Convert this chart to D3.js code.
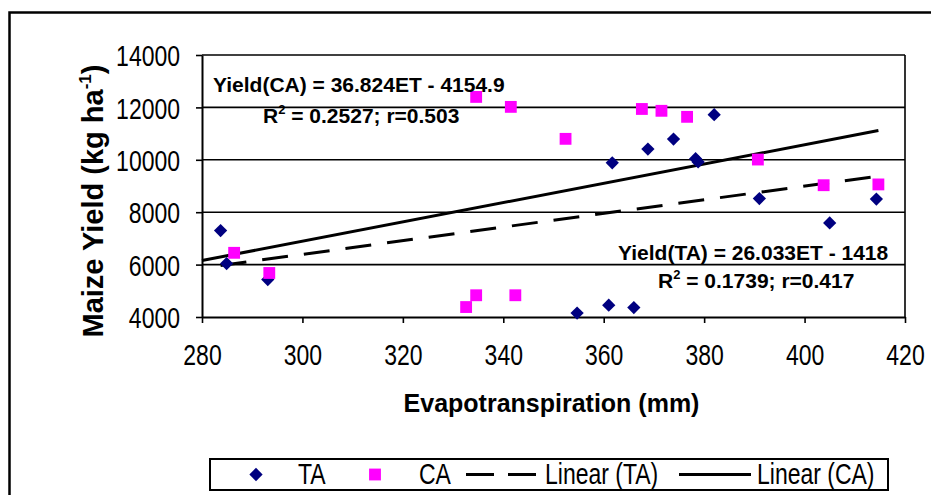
<!DOCTYPE html>
<html>
<head>
<meta charset="utf-8">
<script src="https://cdn.jsdelivr.net/npm/d3@7/dist/d3.min.js"></script>
<style>
  body { margin: 0; background: #fff; }
  text { font-family: "Liberation Sans", Arial, sans-serif; }
</style>
</head>
<body>
<div id="chart"></div>
<script>
// evapotranspiration (mm) and maize yield (kg/ha)
const taET    = [283.7, 284.9, 293.1, 354.7, 361.0, 366.0, 361.7, 368.8, 373.9, 378.3, 378.8, 382.0, 391.0, 405.0, 414.3];
const taYield = [7300, 6040, 5430, 4150, 4450, 4360, 9885, 10410, 10790, 10040, 9920, 11720, 8520, 7590, 8500];
const caET    = [286.4, 293.4, 332.6, 334.6, 342.4, 334.6, 341.5, 352.4, 367.6, 371.5, 376.6, 390.7, 403.8, 414.7];
const caYield = [6450, 5680, 4380, 4830, 4830, 12400, 12020, 10800, 11940, 11870, 11640, 10010, 9030, 9060];

// fitted lines given on the chart
const taFit = [26.033, -1418];
const caFit = [36.824, -4154.9];

const xTicks = [280, 300, 320, 340, 360, 380, 400, 420];
const yTicks = [4000, 6000, 8000, 10000, 12000, 14000];

const width = 931, height = 495;
const plotL = 202, plotR = 905, plotT = 55, plotB = 317;
const stretch = 1.3; // the original figure's plain text is drawn tall and narrow

const svg = d3.select('#chart').append('svg')
  .attr('width', width)
  .attr('height', height);

svg.append('rect')
  .attr('width', width).attr('height', height)
  .attr('fill', '#fff');

// outer chart frame
svg.append('rect')
  .attr('x', 9.5).attr('y', 12.5)
  .attr('width', 940).attr('height', 500)
  .attr('fill', 'none')
  .attr('stroke', '#000')
  .attr('stroke-width', 2.5);

const x = d3.scaleLinear().domain([280, 420]).range([plotL, plotR]);
const y = d3.scaleLinear().domain([4000, 14000]).range([plotB, plotT]);

// gridlines + top frame
svg.append('g')
  .selectAll('line')
  .data(yTicks.slice(1))
  .enter()
  .append('line')
  .attr('x1', plotL).attr('x2', plotR)
  .attr('y1', d => y(d)).attr('y2', d => y(d))
  .attr('stroke', '#000')
  .attr('stroke-width', 1.6);

svg.append('line')
  .attr('x1', plotR).attr('x2', plotR)
  .attr('y1', plotT).attr('y2', plotB)
  .attr('stroke', '#000')
  .attr('stroke-width', 1.6);

const yAxis = svg.append('g')
  .attr('transform', `translate(${plotL},0)`)
  .call(d3.axisLeft(y).tickValues(yTicks).tickSize(6).tickSizeOuter(0).tickPadding(16).tickFormat(d3.format('d')));

const xAxis = svg.append('g')
  .attr('transform', `translate(0,${plotB})`)
  .call(d3.axisBottom(x).tickValues(xTicks).tickSize(6).tickSizeOuter(0).tickPadding(21).tickFormat(d3.format('d')));

[yAxis, xAxis].forEach(g => {
  g.attr('font-family', null).attr('font-size', null);
  g.select('.domain').attr('stroke-width', 2);
  g.selectAll('.tick line').attr('stroke-width', 1.6);
  g.selectAll('.tick text')
    .attr('font-size', 23)
    .attr('fill', '#000')
    .attr('transform', `scale(1,${stretch})`);
});
yAxis.selectAll('.tick text').attr('dy', '0.36em');
xAxis.selectAll('.tick text').attr('y', 27 / stretch);

// trend lines
const line = d3.line().x(d => x(d[0])).y(d => y(d[1]));
const taRange = d3.extent(taET);
const caRange = [280, d3.max(caET)];

svg.append('path')
  .attr('d', line(taRange.map(e => [e, taFit[0] * e + taFit[1]])))
  .attr('fill', 'none')
  .attr('stroke', '#000')
  .attr('stroke-width', 3)
  .attr('stroke-dasharray', '26,16');

svg.append('path')
  .attr('d', line(caRange.map(e => [e, caFit[0] * e + caFit[1]])))
  .attr('fill', 'none')
  .attr('stroke', '#000')
  .attr('stroke-width', 3);

// points
const diamond = d3.symbol().type(d3.symbolSquare).size(88);
const square = d3.symbol().type(d3.symbolSquare).size(140);

svg.append('g')
  .selectAll('path')
  .data(taET.map((e, i) => [e, taYield[i]]))
  .enter()
  .append('path')
  .attr('d', diamond)
  .attr('transform', d => `translate(${x(d[0])},${y(d[1])}) rotate(45)`)
  .attr('fill', '#000080');

svg.append('g')
  .selectAll('path')
  .data(caET.map((e, i) => [e, caYield[i]]))
  .enter()
  .append('path')
  .attr('d', square)
  .attr('transform', d => `translate(${x(d[0])},${y(d[1])})`)
  .attr('fill', '#ff00ff');

// equation labels
const eq = (tx, ty, parts) => {
  const t = svg.append('text')
    .attr('x', tx).attr('y', ty)
    .attr('font-size', 21)
    .attr('font-weight', 'bold');
  parts.forEach(p => {
    t.append('tspan')
      .attr('font-size', p.sup ? 13 : null)
      .attr('dy', p.sup ? -9 : (p.after ? 9 : null))
      .text(p.s);
  });
};
eq(213, 92, [{ s: 'Yield(CA) = 36.824ET - 4154.9' }]);
eq(263, 123, [{ s: 'R' }, { s: '2', sup: true }, { s: ' = 0.2527; r=0.503', after: true }]);
eq(618, 260, [{ s: 'Yield(TA) = 26.033ET - 1418' }]);
eq(658, 288, [{ s: 'R' }, { s: '2', sup: true }, { s: ' = 0.1739; r=0.417', after: true }]);

// axis titles
svg.append('text')
  .attr('x', (plotL + plotR) / 2 - 2)
  .attr('y', 412)
  .attr('text-anchor', 'middle')
  .attr('font-size', 25)
  .attr('font-weight', 'bold')
  .text('Evapotranspiration (mm)');

const yt = svg.append('text')
  .attr('transform', 'translate(103,201) rotate(-90)')
  .attr('text-anchor', 'middle')
  .attr('font-size', 29)
  .attr('font-weight', 'bold');
yt.append('tspan').text('Maize Yield (kg ha');
yt.append('tspan').attr('font-size', 17).attr('dy', -12).text('-1');
yt.append('tspan').attr('dy', 12).text(')');

// legend
const lg = svg.append('g');
lg.append('rect')
  .attr('x', 210).attr('y', 459)
  .attr('width', 678).attr('height', 31)
  .attr('fill', '#fff')
  .attr('stroke', '#000')
  .attr('stroke-width', 2);

const ly = 474.5;
lg.append('path').attr('d', diamond).attr('transform', `translate(256,${ly}) rotate(45)`).attr('fill', '#000080');
lg.append('path').attr('d', square).attr('transform', `translate(375,${ly})`).attr('fill', '#ff00ff');
lg.append('line').attr('x1', 466).attr('x2', 536).attr('y1', ly).attr('y2', ly)
  .attr('stroke', '#000').attr('stroke-width', 3).attr('stroke-dasharray', '28,14');
lg.append('line').attr('x1', 679).attr('x2', 751).attr('y1', ly).attr('y2', ly)
  .attr('stroke', '#000').attr('stroke-width', 3);

const legendLabels = ['TA', 'CA', 'Linear (TA)', 'Linear (CA)'];
const legendX = [298, 419, 545, 757];
lg.selectAll('text.lbl')
  .data(legendLabels)
  .enter()
  .append('text')
  .attr('class', 'lbl')
  .attr('x', (d, i) => legendX[i])
  .attr('y', (ly + 10) / stretch)
  .attr('transform', `scale(1,${stretch})`)
  .attr('font-size', 23)
  .text(d => d);
</script>
</body>
</html>
